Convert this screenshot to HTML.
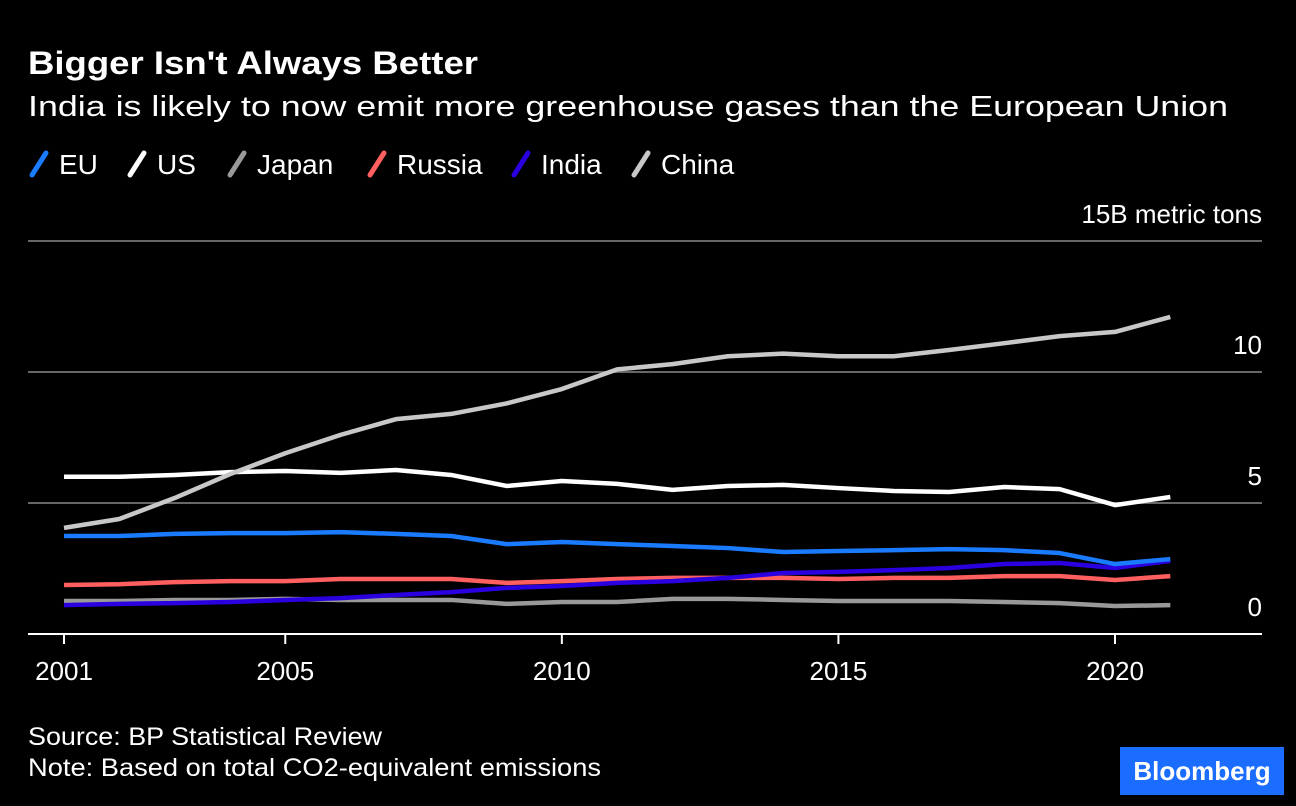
<!DOCTYPE html>
<html><head><meta charset="utf-8"><style>
body{margin:0;background:#000;width:1296px;height:806px;overflow:hidden;font-family:"Liberation Sans",sans-serif;color:#fff}
svg{position:absolute;left:0;top:0}
</style></head><body>
<svg width="1296" height="806">
<text x="28" y="74" font-size="32" font-weight="bold" fill="#fff" textLength="450" lengthAdjust="spacingAndGlyphs">Bigger Isn't Always Better</text>
<text x="28" y="116" font-size="29" fill="#fff" textLength="1200" lengthAdjust="spacingAndGlyphs">India is likely to now emit more greenhouse gases than the European Union</text>
<g id="legend"></g>
<g id="grid"></g><g id="lines"></g><g id="xt"></g>
<text x="28" y="745" font-size="25" fill="#fff" textLength="354" lengthAdjust="spacingAndGlyphs">Source: BP Statistical Review</text>
<text x="28" y="776" font-size="25" fill="#fff" textLength="573" lengthAdjust="spacingAndGlyphs">Note: Based on total CO2-equivalent emissions</text>
<rect x="1120" y="747" width="164" height="48" fill="#1a6dff"/>
<text x="1202" y="780" font-size="26" font-weight="bold" fill="#fff" text-anchor="middle">Bloomberg</text>
</svg>
<script>
const years=[2001,2002,2003,2004,2005,2006,2007,2008,2009,2010,2011,2012,2013,2014,2015,2016,2017,2018,2019,2020,2021];
const china=[4.05,4.39,5.19,6.1,6.9,7.6,8.2,8.4,8.8,9.35,10.1,10.3,10.6,10.7,10.6,10.6,10.84,11.1,11.37,11.53,12.1];
const us=[6.0,6.0,6.07,6.18,6.22,6.15,6.26,6.07,5.65,5.84,5.73,5.5,5.65,5.69,5.57,5.46,5.42,5.61,5.53,4.92,5.23];
const eu=[3.74,3.74,3.82,3.85,3.85,3.89,3.82,3.74,3.43,3.51,3.43,3.36,3.28,3.13,3.17,3.2,3.24,3.2,3.09,2.67,2.86];
const russia=[1.87,1.9,1.98,2.02,2.02,2.1,2.1,2.1,1.95,2.02,2.1,2.14,2.14,2.14,2.1,2.14,2.14,2.21,2.21,2.06,2.21];
const india=[1.1,1.15,1.18,1.22,1.3,1.37,1.49,1.6,1.76,1.83,1.95,2.02,2.14,2.33,2.37,2.44,2.52,2.67,2.71,2.52,2.79];
const japan=[1.26,1.26,1.3,1.3,1.34,1.3,1.3,1.3,1.15,1.22,1.22,1.34,1.34,1.3,1.26,1.26,1.26,1.22,1.18,1.07,1.1];
const yTicks=[0,5,10,15];
const xTicks=[2001,2005,2010,2015,2020];
const NS="http://www.w3.org/2000/svg";
const x=v=>64+(v-2001)*(1115-64)/19;
const y=v=>634-v*26.2;
function mk(t,a,p){const e=document.createElementNS(NS,t);for(const k in a)e.setAttribute(k,a[k]);p.appendChild(e);return e;}
const grid=document.getElementById('grid');
yTicks.forEach(t=>{
 const l=mk('line',{x1:28,x2:1262,y1:y(t),y2:y(t),stroke:t===0?'#fff':'#666','stroke-width':2},grid);
 
 
 const tx=mk('text',{x:1262,y:y(t)-18,'font-size':26,fill:'#fff','text-anchor':'end'},grid);
 tx.textContent=t===15?'15B metric tons':String(t);
 
 
});
const xt=document.getElementById('xt');
xTicks.forEach(t=>{
 const l=mk('line',{x1:x(t),x2:x(t),y1:634,y2:644,stroke:'#fff','stroke-width':2},xt);
 
 
 const tx=mk('text',{x:x(t),y:680,'font-size':26,fill:'#fff','text-anchor':'middle'},xt);
 tx.textContent=t;
 
 
});
const series=[['EU',eu,'#1a7bff'],['US',us,'#ffffff'],['Japan',japan,'#999999'],['Russia',russia,'#ff5f5f'],['India',india,'#2b00e0'],['China',china,'#c8c8c8']];
const lines=document.getElementById('lines');
['Japan','Russia','India','EU','US','China'].forEach(n=>{
 const s=series.find(q=>q[0]===n);
 const p=mk('polyline',{points:years.map((yr,i)=>x(yr)+','+y(s[1][i])).join(' '),fill:'none',stroke:s[2],'stroke-width':4.5,'stroke-linejoin':'round'},lines);
 
 
});
const lg=document.getElementById('legend');
const lx=[30,128,228,368,512,632];
series.forEach((s,i)=>{
 const g=mk('g',{},lg);
 
 
 mk('line',{x1:lx[i]+2,y1:175,x2:lx[i]+16,y2:153,stroke:s[2],'stroke-width':5,'stroke-linecap':'round'},g);
 const t=mk('text',{x:lx[i]+29,y:174,'font-size':28,fill:'#fff'},g);
 t.textContent=s[0];
});
</script>
</body></html>
